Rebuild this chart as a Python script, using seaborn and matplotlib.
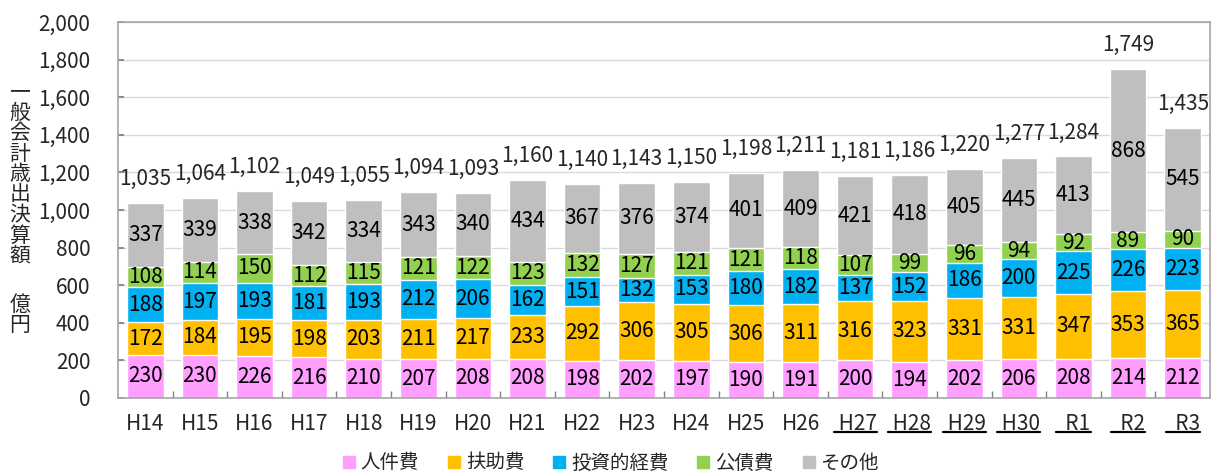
import matplotlib
matplotlib.use('Agg')
import matplotlib.pyplot as plt
from matplotlib.lines import Line2D
import seaborn as sns
import numpy as np
import pandas as pd

# fiscal years (labels), underlined ones from H27 on
years = ['H14', 'H15', 'H16', 'H17', 'H18', 'H19', 'H20', 'H21', 'H22', 'H23',
         'H24', 'H25', 'H26', 'H27', 'H28', 'H29', 'H30', 'R1', 'R2', 'R3']
underlined = ['H27', 'H28', 'H29', 'H30', 'R1', 'R2', 'R3']

categories = ['人件費', '扶助費', '投資的経費', '公債費', 'その他']
personnel = [230, 230, 226, 216, 210, 207, 208, 208, 198, 202, 197, 190, 191, 200, 194, 202, 206, 208, 214, 212]
assistance = [172, 184, 195, 198, 203, 211, 217, 233, 292, 306, 305, 306, 311, 316, 323, 331, 331, 347, 353, 365]
investment = [188, 197, 193, 181, 193, 212, 206, 162, 151, 132, 153, 180, 182, 137, 152, 186, 200, 225, 226, 223]
debt = [108, 114, 150, 112, 115, 121, 122, 123, 132, 127, 121, 121, 118, 107, 99, 96, 94, 92, 89, 90]
other = [337, 339, 338, 342, 334, 343, 340, 434, 367, 376, 374, 401, 409, 421, 418, 405, 445, 413, 868, 545]
totals = [1035, 1064, 1102, 1049, 1055, 1094, 1093, 1160, 1140, 1143, 1150, 1198, 1211, 1181, 1186, 1220, 1277, 1284, 1749, 1435]

colors = ['#FF9EFF', '#FFC000', '#00B0F0', '#92D050', '#BFBFBF']

sns.set_theme(style='white')
plt.rcParams['font.family'] = ['Noto Sans CJK JP', 'DejaVu Sans']
FS = 15

df = pd.DataFrame({'year': years, '人件費': personnel, '扶助費': assistance,
                   '投資的経費': investment, '公債費': debt, 'その他': other})
cum = df[categories].cumsum(axis=1)

fig = plt.figure(figsize=(12.18, 4.75), dpi=100)
ax = fig.add_axes([118 / 1218, 1 - 398 / 475, (1210 - 118) / 1218, (398 - 22) / 475])

# stacked bars: draw cumulative heights from top layer down
for cat, col in reversed(list(zip(categories, colors))):
    sns.barplot(x=df['year'], y=cum[cat], color=col, saturation=1, width=0.67,
                ax=ax, zorder=2)

# segment labels
x = np.arange(len(years))
for cat in categories:
    mids = cum[cat] - df[cat] / 2
    for xi, m, v in zip(x, mids, df[cat]):
        ax.text(xi, m, str(v), ha='center', va='center', fontsize=FS,
                color='black', zorder=3)

# total labels
for xi, t in zip(x, totals):
    ax.annotate(f'{t:,}', (xi, t), xytext=(0, 13), textcoords='offset points',
                ha='center', va='baseline', fontsize=FS, zorder=3)

ax.set_ylim(0, 2000)
ax.set_xlim(-0.5, len(years) - 0.5)
ax.set_yticks(np.arange(0, 2001, 200))
ax.set_yticklabels([f'{v:,}' for v in range(0, 2001, 200)], fontsize=FS)
ax.yaxis.grid(True, color='#D9D9D9', linewidth=1, zorder=0)
ax.set_axisbelow(True)

xlabels = []
for y in years:
    if y in underlined:
        xlabels.append(('  ' if y.startswith('R') else ' ') + y)
    else:
        xlabels.append(y)
ax.set_xticks(x)
ax.set_xticklabels(xlabels, fontsize=FS)
ax.set_xticks(x[:-1] + 0.5, minor=True)
ax.tick_params(axis='x', which='major', length=0, pad=11)
ax.tick_params(axis='x', which='minor', direction='in', length=5, color='#808080', width=1, bottom=True)
ax.tick_params(axis='y', which='major', direction='in', length=4, color='#808080', pad=20, left=True)
ax.set_xlabel('')
ax.set_ylabel('')
for sp in ax.spines.values():
    sp.set_color('#A6A6A6')
    sp.set_linewidth(1.2)

# vertical y label, one character per line
ychars = list('一般会計歳出決算額') + ['', '億', '円']
ypix = 92
for ch in ychars:
    if ch:
        fig.text(20 / 1218, 1 - ypix / 475, ch, ha='center', va='center', fontsize=FS)
    ypix += 20.5 if ch else 28

# legend
handles = [Line2D([0], [0], marker='s', linestyle='', markersize=9,
                  markerfacecolor=c, markeredgecolor=c) for c in colors]
fig.legend(handles, categories, loc='center', bbox_to_anchor=(0.5, 1 - 463 / 475),
           ncol=5, frameon=False, fontsize=14, handletextpad=0.1,
           columnspacing=1.3, handlelength=1.0)

# underline the later fiscal years
fig.canvas.draw()
renderer = fig.canvas.get_renderer()
for lab in ax.get_xticklabels():
    if lab.get_text().strip() in underlined:
        bb = lab.get_window_extent(renderer)
        yy = bb.y0 + 3
        fig.add_artist(Line2D([bb.x0 / 1218, bb.x1 / 1218], [yy / 475, yy / 475],
                              transform=fig.transFigure, color='black', linewidth=1.6))

fig.savefig('out.png', dpi=100)
